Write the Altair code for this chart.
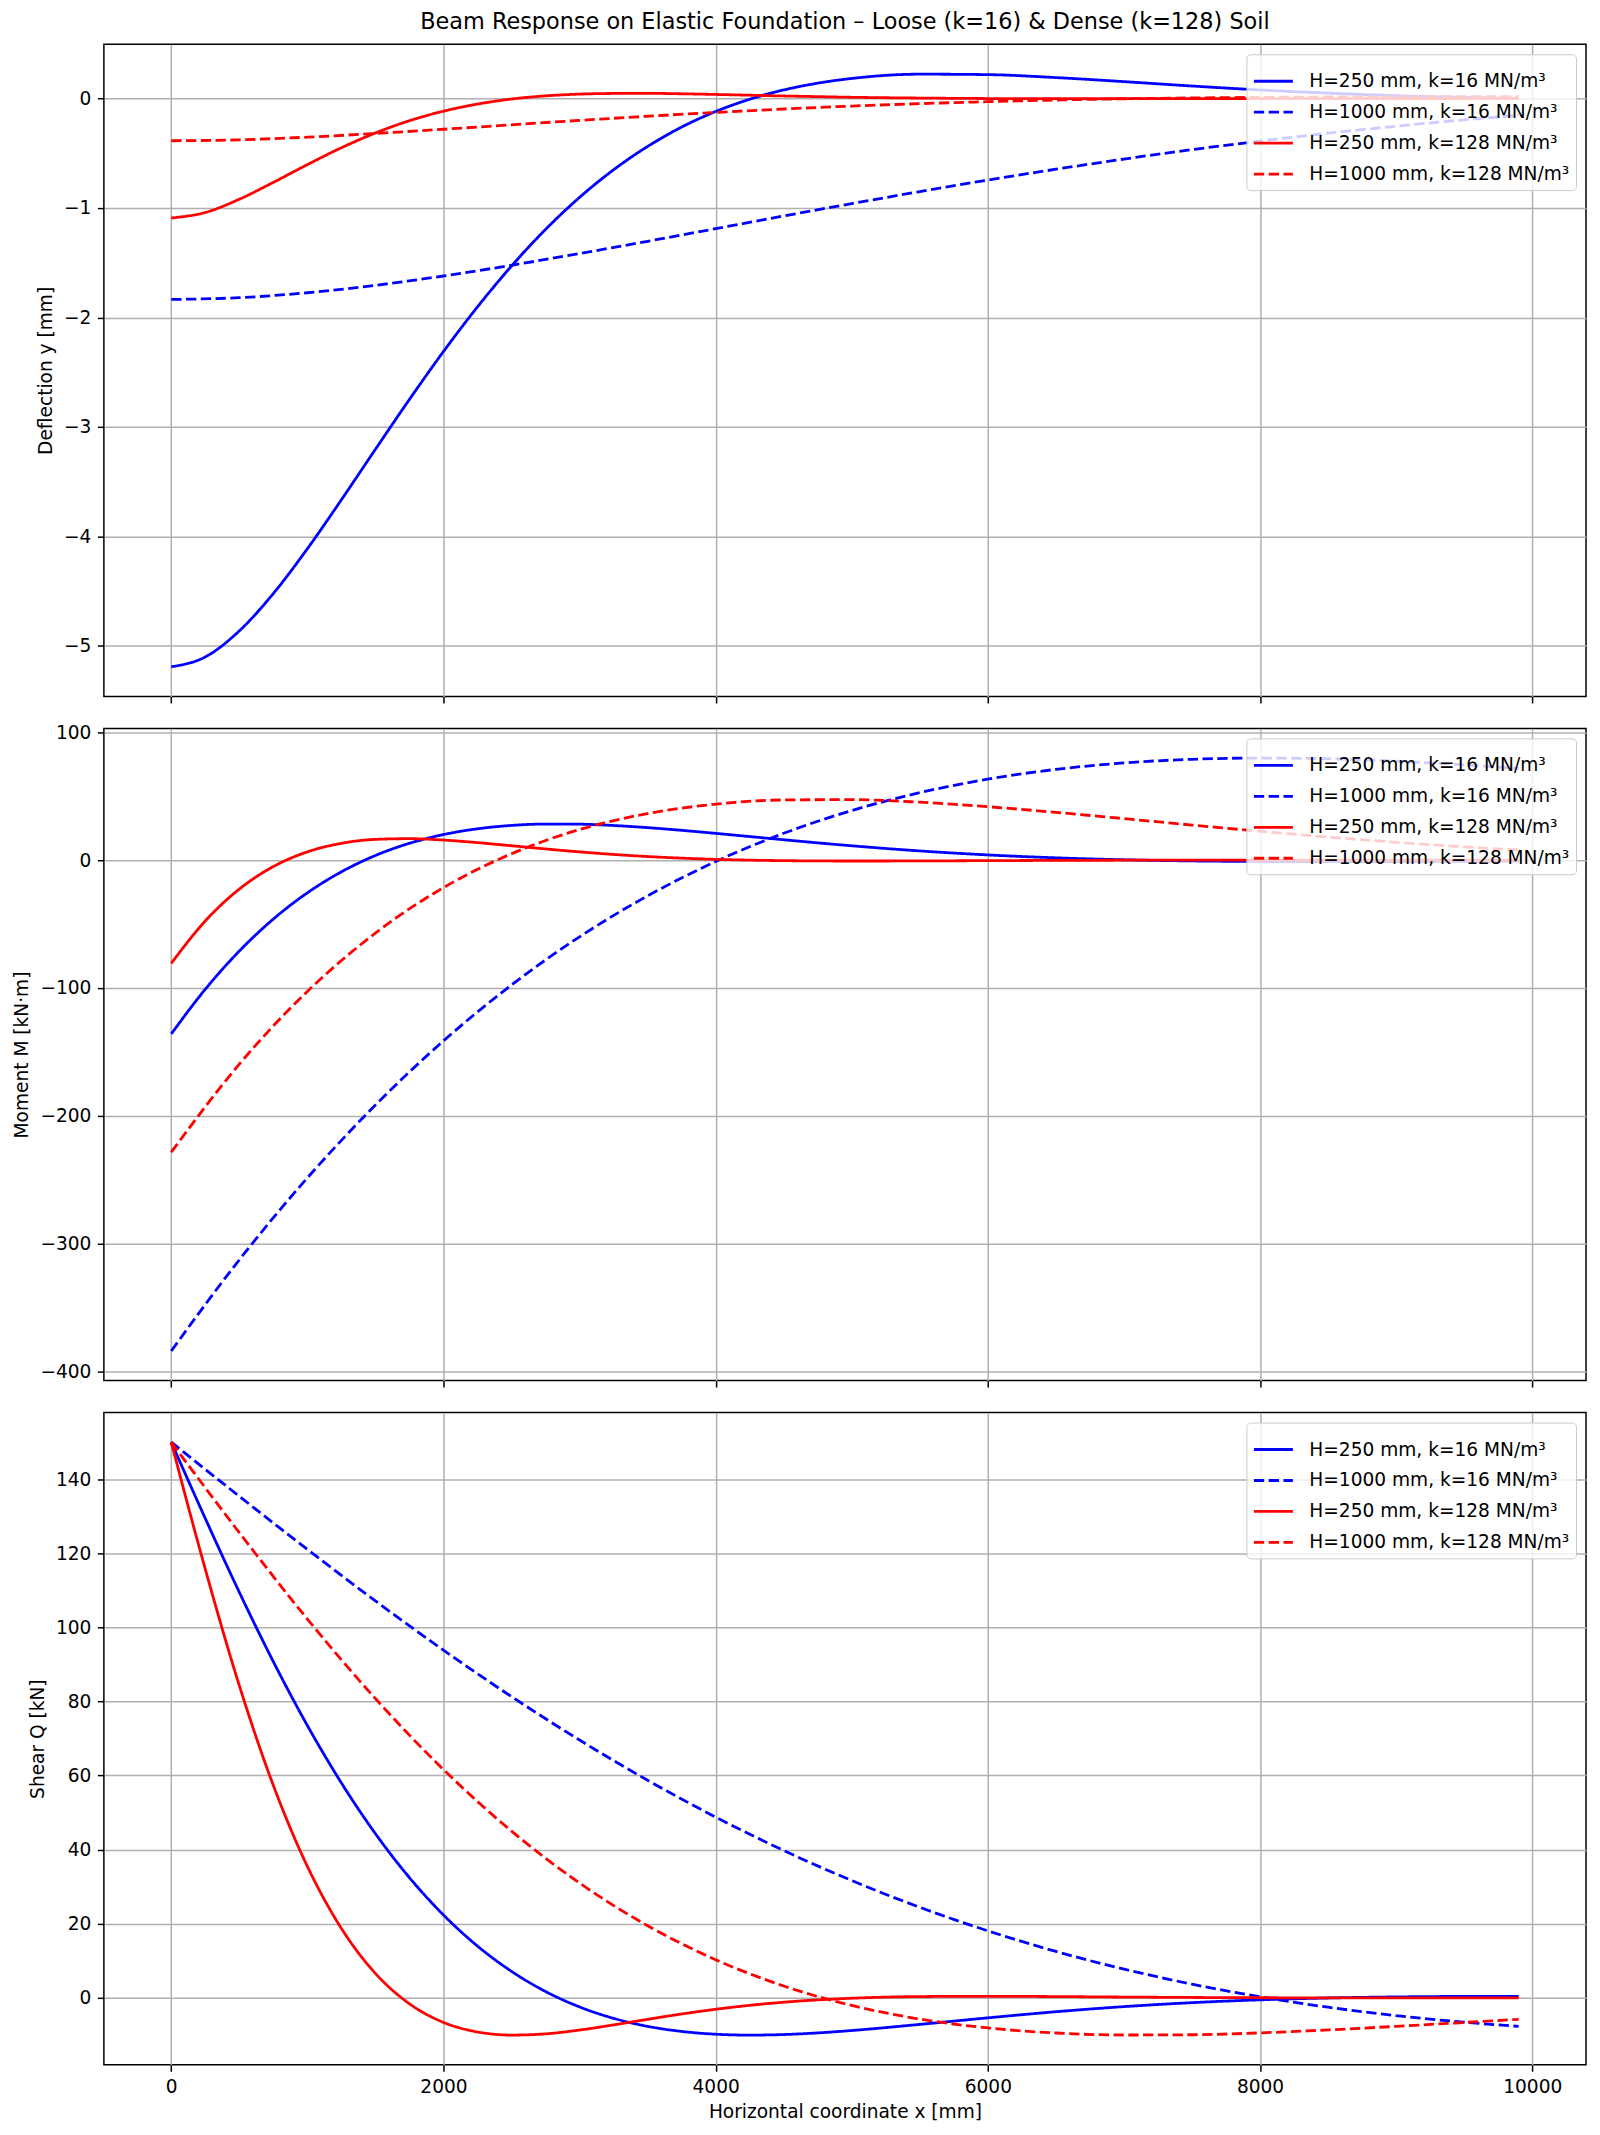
import altair as alt
import pandas as pd

SERIES = ["H=250 mm, k=16 MN/m³", "H=1000 mm, k=16 MN/m³",
          "H=250 mm, k=128 MN/m³", "H=1000 mm, k=128 MN/m³"]
COLORS = ["#0000ff", "#0000ff", "#ff0000", "#ff0000"]
DASHES = [[1, 0], [10.3, 4.5], [1, 0], [10.3, 4.5]]

# x positions [mm]
x_fine = [0, 250, 500, 750, 1000, 1250, 1500, 1750, 2000, 2250, 2500, 2750, 3000,
          3250, 3500, 3750, 4000, 4250, 4500, 4750, 5000, 5500, 6000, 6500, 7000,
          7500, 8000, 8500, 9000, 9500, 9900]
x_coarse = [0, 500, 1000, 1500, 2000, 2500, 3000, 3500, 4000, 4500, 5000, 5500,
            6000, 6500, 7000, 7500, 8000, 8500, 9000, 9500, 9900]

# H=250 mm, k=16
defl_250_16 = [-5.190, -5.100, -4.862, -4.521, -4.112, -3.665, -3.204, -2.748, -2.311,
               -1.903, -1.530, -1.196, -0.903, -0.651, -0.438, -0.261, -0.119, -0.007,
               0.078, 0.140, 0.183, 0.222, 0.218, 0.191, 0.154, 0.114, 0.078, 0.049,
               0.026, 0.010, 0.001]
mom_250_16 = [-136.0, -101.05, -71.17, -46.14, -25.61, -9.19, 3.58, 13.15, 19.97, 24.49,
              27.11, 28.19, 28.08, 27.06, 25.39, 23.28, 20.91, 18.42, 15.91, 13.48, 11.19,
              7.18, 4.04, 1.77, 0.25, -0.65, -1.09, -1.22, -1.15, -0.98, -0.81]
shear_250_16 = [150.0, 129.42, 109.51, 90.77, 73.54, 58.03, 44.33, 32.46, 22.38, 13.99,
                7.16, 1.73, -2.44, -5.52, -7.68, -9.06, -9.81, -10.05, -9.90, -9.46, -8.81,
                -7.16, -5.39, -3.74, -2.36, -1.29, -0.53, -0.03, 0.26, 0.40, 0.43]

# H=1000 mm, k=16
defl_1000_16 = [-1.835, -1.819, -1.774, -1.706, -1.621, -1.523, -1.416, -1.304, -1.189,
                -1.073, -0.960, -0.850, -0.745, -0.646, -0.553, -0.467, -0.389, -0.317,
                -0.253, -0.195, -0.154]
mom_1000_16 = [-384.0, -312.70, -248.63, -191.63, -141.43, -97.68, -60.01, -27.98, -1.14,
               20.95, 38.77, 52.75, 63.35, 70.97, 76.01, 78.85, 79.82, 79.24, 77.39, 74.53,
               71.68]
shear_1000_16 = [150.0, 135.40, 121.06, 107.16, 93.88, 81.33, 69.60, 58.75, 48.81, 39.78,
                 31.67, 24.45, 18.09, 12.54, 7.76, 3.70, 0.29, -2.52, -4.79, -6.57, -7.69]

# H=250 mm, k=128
defl_250_128 = [-1.091, -1.041, -0.920, -0.766, -0.604, -0.450, -0.315, -0.203, -0.116,
                -0.051, -0.005, 0.024, 0.040, 0.046, 0.047, 0.043, 0.037, 0.030, 0.023,
                0.017, 0.011, 0.004, -0.0004, -0.002, -0.002, -0.0015, -0.0009, -0.0004,
                -0.0001, 0.0, 0.0001]
mom_250_128 = [-80.80, -47.61, -22.68, -5.07, 6.43, 13.11, 16.20, 16.75, 15.67, 13.65,
               11.21, 8.73, 6.42, 4.42, 2.78, 1.52, 0.59, -0.04, -0.43, -0.64, -0.72,
               -0.64, -0.43, -0.24, -0.09, -0.01, 0.02, 0.03, 0.03, 0.02, 0.01]
shear_250_128 = [150.0, 115.74, 84.32, 57.37, 35.52, 18.76, 6.61, -1.59, -6.61, -9.20,
                 -10.04, -9.71, -8.68, -7.29, -5.79, -4.35, -3.08, -2.01, -1.17, -0.54,
                 -0.10, 0.35, 0.43, 0.35, 0.22, 0.11, 0.04, 0.0, -0.02, -0.02, -0.01]

# H=1000 mm, k=128
defl_1000_128 = [-0.386, -0.377, -0.353, -0.319, -0.281, -0.240, -0.200, -0.162, -0.127,
                 -0.096, -0.069, -0.047, -0.029, -0.014, -0.003, 0.005, 0.0105, 0.014,
                 0.016, 0.0167, 0.0165]
mom_1000_128 = [-228.5, -159.63, -102.74, -57.07, -21.56, 4.99, 23.89, 36.41, 43.76,
                47.05, 47.28, 45.28, 41.77, 37.33, 32.43, 27.41, 22.55, 18.02, 13.93,
                10.35, 7.86]
shear_1000_128 = [150.0, 125.59, 102.27, 80.80, 61.64, 45.02, 31.00, 19.48, 10.30, 3.21,
                  -2.04, -5.73, -8.12, -9.48, -10.02, -9.95, -9.45, -8.65, -7.68, -6.64,
                  -5.79]

series_data = [
    (SERIES[0], x_fine, defl_250_16, mom_250_16, shear_250_16),
    (SERIES[1], x_coarse, defl_1000_16, mom_1000_16, shear_1000_16),
    (SERIES[2], x_fine, defl_250_128, mom_250_128, shear_250_128),
    (SERIES[3], x_coarse, defl_1000_128, mom_1000_128, shear_1000_128),
]
rows = []
for order, (name, xs, ds, ms, qs) in enumerate(series_data):
    for xv, dv, mv, qv in zip(xs, ds, ms, qs):
        rows.append({"series": name, "ord": order, "x": xv, "defl": dv, "mom": mv, "shear": qv})
df = pd.DataFrame(rows)

FONT = "DejaVu Sans"
FS = 18.6
W, H = 1484, 653
X_DOMAIN = [-495, 10395]
X_TICKS = [0, 2000, 4000, 6000, 8000, 10000]


def make_legend():
    return alt.Legend(
        title=None, orient="top-right", offset=10, symbolType="stroke",
        symbolSize=1521, symbolStrokeWidth=2.8, labelFontSize=FS, labelFont=FONT,
        labelColor="black", labelOffset=15, rowPadding=0, padding=6,
        fillColor="rgba(255,255,255,0.8)", strokeColor="#cccccc", cornerRadius=4,
        labelLimit=500,
    )


def panel(field, ytitle, ydomain, yticks, bottom, title=None):
    xaxis = alt.Axis(values=X_TICKS, format="d", labels=bottom, titlePadding=6,
                     title="Horizontal coordinate x [mm]" if bottom else None)
    ch = alt.Chart(df).mark_line(strokeWidth=2.8, interpolate="monotone").encode(
        x=alt.X("x:Q", scale=alt.Scale(domain=X_DOMAIN, nice=False, zero=False), axis=xaxis),
        y=alt.Y(f"{field}:Q", scale=alt.Scale(domain=ydomain, nice=False, zero=False),
                axis=alt.Axis(values=yticks, title=ytitle)),
        color=alt.Color("series:N", scale=alt.Scale(domain=SERIES, range=COLORS),
                        legend=make_legend()),
        strokeDash=alt.StrokeDash("series:N", scale=alt.Scale(domain=SERIES, range=DASHES),
                                  legend=make_legend()),
        detail="ord:O",
        order=alt.Order("x:Q"),
    )
    props = dict(width=W, height=H)
    if title is not None:
        props["title"] = title
    return ch.properties(**props)


title = alt.TitleParams(
    text="Beam Response on Elastic Foundation – Loose (k=16) & Dense (k=128) Soil",
    fontSize=22.4, font=FONT, fontWeight="normal", color="black", anchor="middle",
    frame="group", offset=-12, baseline="bottom",
)

p1 = panel("defl", "Deflection y [mm]", [-5.461, 0.495], [-5, -4, -3, -2, -1, 0], False, title)
p2 = panel("mom", "Moment M [kN·m]", [-407.2, 103.0], [-400, -300, -200, -100, 0, 100], False)
p3 = panel("shear", "Shear Q [kN]", [-18.05, 158.0], [0, 20, 40, 60, 80, 100, 120, 140], True)

chart = alt.vconcat(p1, p2, p3, spacing=32, bounds="flush").resolve_scale(
    color="independent", strokeDash="independent", x="independent", y="independent"
).resolve_legend(
    color="independent", strokeDash="independent"
).properties(
    padding={"left": 4, "top": 0, "right": 5, "bottom": 5}
).configure(
    font=FONT
).configure_view(
    stroke="black", strokeWidth=1.5
).configure_axis(
    labelFont=FONT, labelFontSize=FS, labelColor="black",
    titleFont=FONT, titleFontSize=FS, titleFontWeight="normal", titleColor="black",
    tickColor="black", tickSize=6.5, tickWidth=1.5, labelPadding=6.5,
    domain=False, grid=True, gridColor="#b0b0b0", gridWidth=1.5, titlePadding=8,
)

chart.save("out.html", embed_options={"renderer": "svg", "actions": False})
